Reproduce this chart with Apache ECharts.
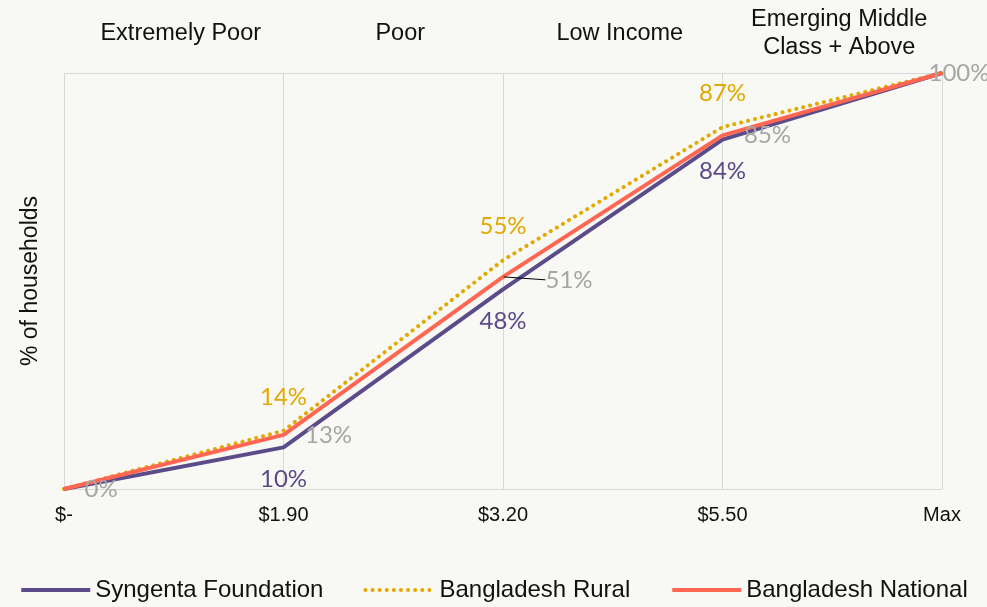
<!DOCTYPE html>
<html><head><meta charset="utf-8">
<script src="https://cdn.jsdelivr.net/npm/echarts@6/dist/echarts.min.js"></script>
<style>html,body{margin:0;padding:0;background:#f8f8f4}#c{width:987px;height:607px}</style>
</head><body><div id="c"></div>
<script>
const categories = ['$-', '$1.90', '$3.20', '$5.50', 'Max'];
const bands = ['Extremely Poor', 'Poor', 'Low Income', 'Emerging Middle\nClass + Above'];
const syngenta = [0, 10, 48, 84, 100];
const rural = [0, 14, 55, 87, 100];
const national = [0, 13, 51, 85, 100];

const FONT = 'Liberation Sans';
const LFONT = 'Lato';
const chart = echarts.init(document.getElementById('c'));

function lbl(show, pos, dist, color) {
  return show ? {show: true, position: pos, distance: dist, color: color, fontFamily: LFONT, fontSize: 24, formatter: p => p.value + '%'} : {show: false};
}
const purple = '#5b4c89', gold = '#e2a900', coral = '#ff6753', gray = '#a6a6a6';

chart.setOption({
  backgroundColor: '#f8f8f4',
  animation: false,
  grid: {left: 64, right: 45, top: 73, bottom: 118},
  legend: {
    bottom: 0, left: 'center', itemWidth: 69, itemHeight: 14, itemGap: 40,
    textStyle: {fontFamily: FONT, fontSize: 24, color: '#111'},
    lineStyle: {width: 4},
    itemStyle: {opacity: 0},
    data: ['Syngenta Foundation', 'Bangladesh Rural', 'Bangladesh National']
  },
  xAxis: [{
    type: 'category', data: categories, boundaryGap: false,
    axisLine: {lineStyle: {color: '#d9d9d9'}}, axisTick: {show: false},
    axisLabel: {color: '#111', fontFamily: FONT, fontSize: 20, margin: 16},
    splitLine: {show: true, lineStyle: {color: '#d9d9d9'}}
  }, {
    type: 'category', data: bands, position: 'top', boundaryGap: true,
    axisLine: {show: false}, axisTick: {show: false}, splitLine: {show: false},
    axisLabel: {interval: 0, hideOverlap: false, color: '#111', fontFamily: FONT, fontSize: 23.5, margin: 39, verticalAlign: 'middle', lineHeight: 28, padding: [0, 0, 0, 14]}
  }],
  yAxis: {
    type: 'value', min: 0, max: 100, interval: 100,
    name: '% of households', nameLocation: 'middle', nameGap: 22,
    nameTextStyle: {fontFamily: FONT, fontSize: 23, color: '#111'},
    axisLabel: {show: false}, axisLine: {show: false}, axisTick: {show: false},
    splitLine: {lineStyle: {color: '#d9d9d9'}}
  },
  series: [
    {
      name: 'Syngenta Foundation', type: 'line', symbol: 'circle', symbolSize: 1, showSymbol: true, z: 3,
      lineStyle: {color: purple, width: 4}, itemStyle: {color: purple},
      data: syngenta.map((v, i) => ({value: v, label: lbl(i > 0 && i < 4, 'bottom', 19, purple)}))
    },
    {
      name: 'Bangladesh Rural', type: 'line', symbol: 'circle', symbolSize: 1, showSymbol: true, z: 2,
      lineStyle: {color: gold, width: 4, type: [0.1, 7], cap: 'round'}, itemStyle: {color: gold},
      data: rural.map((v, i) => ({value: v, label: lbl(i > 0 && i < 4, 'top', 21, gold)}))
    },
    {
      name: 'Bangladesh National', type: 'line', symbol: 'circle', symbolSize: 1, showSymbol: true, z: 4,
      labelLine: {show: false},
      lineStyle: {color: coral, width: 4}, itemStyle: {color: coral},
      labelLayout: p => p.dataIndex === 2 ? {dx: 40, dy: 3} : {},
      data: national.map((v, i) => {
        const d = [20, 21, 2, 21, -14][i];
        const item = {value: v, label: Object.assign(lbl(true, 'right', d, gray), {verticalAlign: 'middle', offset: [0, [0, 2, 0, 4, 4][i]]})};
        if (i === 2) item.labelLine = {show: true, lineStyle: {color: '#000', width: 1}};
        return item;
      })
    }
  ]
});
</script></body></html>
